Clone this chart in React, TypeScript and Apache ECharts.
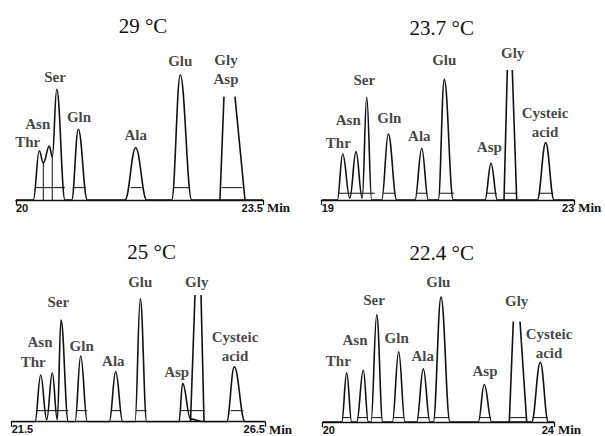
import React, { useEffect, useRef } from "react";
import * as echarts from "echarts";

// ---------- data (time in min, signal in % of full scale) ----------
const panelTitles = ["29 °C", "23.7 °C", "25 °C", "22.4 °C"];
const axisRanges: [number, number][] = [
  [20, 23.5],
  [19, 23],
  [21.5, 26.5],
  [20, 24],
];

// Detector traces (retention time, signal)
const trace29: [number, number][] = [
  [20, 0], [20.245, 0], [20.33, 37.9], [20.387, 28.5], [20.472, 41.5], [20.514, 33.1], [20.577, 85.2], [20.694, 0],
  [20.789, 0], [20.883, 54.4], [21.01, 0],
  [21.545, 0], [21.696, 40.2], [21.852, 0],
  [22.206, 0], [22.328, 96.2], [22.49, 0],
  [22.89, 0], [23.245, 0], [23.5, 0],
];
const trace237: [number, number][] = [
  [19, 0], [19.247, 0], [19.333, 35.4], [19.445, 1.5], [19.543, 37.2], [19.641, 1.5], [19.713, 79.0], [19.792, 0],
  [19.95, 0], [20.055, 50.8], [20.188, 0],
  [20.477, 0], [20.584, 39.8], [20.688, 0],
  [20.846, 0], [20.941, 92.8], [21.084, 0],
  [21.586, 0], [21.681, 28.2], [21.781, 0],
  [21.887, 0], [22.088, 0],
  [22.414, 0], [22.547, 44.1], [22.679, 0], [23, 0],
];
const trace25: [number, number][] = [
  [21.5, 0], [21.96, 0], [22.072, 35.9], [22.191, 1.5], [22.301, 37.7], [22.4, 1.5], [22.473, 78.2], [22.617, 0],
  [22.75, 0], [22.862, 50.5], [22.992, 0],
  [23.427, 0], [23.553, 38.5], [23.691, 0],
  [23.934, 0], [24.038, 94.6], [24.165, 0],
  [24.802, 0], [24.875, 29.5], [25.03, 2], [25.296, 0],
  [25.744, 0], [25.894, 42.3], [26.105, 0], [26.5, 0],
];
const trace224: [number, number][] = [
  [20, 0], [20.329, 0], [20.415, 38], [20.501, 0],
  [20.588, 0], [20.702, 40], [20.789, 0],
  [20.835, 0], [20.934, 82.8], [21.038, 0],
  [21.204, 0], [21.314, 54.2], [21.423, 0],
  [21.625, 0], [21.74, 41.1], [21.855, 0],
  [21.912, 0], [22.046, 96.5], [22.201, 0],
  [22.691, 0], [22.794, 29], [22.922, 0],
  [23.227, 0], [23.528, 0],
  [23.614, 0], [23.763, 46.2], [23.901, 0], [24, 0],
];

// Off-scale Gly peaks: [left base, left top, right top, right base] times, and the pen limit
const glyTimes: [number, number, number, number][] = [
  [22.89, 22.947, 23.103, 23.245],
  [21.887, 21.939, 22.018, 22.088],
  [25.03, 25.118, 25.237, 25.296],
  [23.227, 23.296, 23.412, 23.528],
];
const glyLimit = [79.5, 100, 97.5, 77.7];

// Integration marks (start, end time) and their level
const bars29: [number, number][] = [[20.269, 20.694], [20.803, 20.992], [21.625, 21.781], [22.239, 22.466], [22.914, 23.207]];
const bars237: [number, number][] = [[19.263, 19.844], [19.975, 20.161], [20.504, 20.672], [20.873, 21.095], [21.602, 21.771], [21.903, 22.088], [22.446, 22.667]];
const bars25: [number, number][] = [[21.98, 22.617], [22.769, 22.992], [23.46, 23.652], [23.954, 24.165], [24.822, 25.316], [25.823, 26.072]];
const bars224: [number, number][] = [[20.345, 20.49], [20.6, 20.78], [20.845, 21.03], [21.215, 21.41], [21.64, 21.845], [21.925, 22.19], [22.705, 22.91], [23.24, 23.515], [23.63, 23.89]];
const barLevels = [9.5, 5.2, 8.5, 3.4];
// Valley drop lines (time, valley signal)
const drops29: [number, number][] = [[20.387, 28.5], [20.514, 33.1]];

// Peak names and apexes
const names29 = ["Thr", "Asn", "Ser", "Gln", "Ala", "Glu", "Gly\nAsp"];
const times29 = [20.33, 20.472, 20.577, 20.883, 21.696, 22.328, 23.025];
const heights29 = [37.9, 41.5, 85.2, 54.4, 40.2, 96.2, 79.5];

const names9 = ["Thr", "Asn", "Ser", "Gln", "Ala", "Glu", "Asp", "Gly", "Cysteic\nacid"];
const times237 = [19.333, 19.543, 19.713, 20.055, 20.584, 20.941, 21.681, 21.978, 22.547];
const heights237 = [35.4, 37.2, 79.0, 50.8, 39.8, 92.8, 28.2, 100, 44.1];
const times25 = [22.072, 22.301, 22.473, 22.862, 23.553, 24.038, 24.875, 25.178, 25.894];
const heights25 = [35.9, 37.7, 78.2, 50.5, 38.5, 94.6, 29.5, 97.5, 42.3];
const times224 = [20.415, 20.702, 20.934, 21.314, 21.74, 22.046, 22.794, 23.354, 23.763];
const heights224 = [38, 40, 82.8, 54.2, 41.1, 96.5, 29, 77.7, 46.2];

// ---------- layout / styling ----------
const gridBoxes = [
  { left: 16, width: 247, baseline: 200 },
  { left: 321.7, width: 252.6, baseline: 200 },
  { left: 11.7, width: 253.3, baseline: 421.7 },
  { left: 322.7, width: 231.3, baseline: 422.7 },
];
const titlePos = [
  [143, 26],
  [441.7, 28],
  [151.7, 251.7],
  [441.7, 253.3],
];
const labelOffsets: number[][][] = [
  [[-11.6, -9], [-11.6, -22], [-1.7, -12], [0.7, -12], [0, -12.7], [0, -14], [-3.5, -26.7]],
  [[-4.4, -10.7], [-7.7, -31.7], [-2.4, -17.3], [1, -15.7], [-2.4, -12.3], [0, -19.3], [-1.7, -16.6], [2.9, -16.7], [-0.7, -20]],
  [[-7.4, -13.3], [-12.3, -31], [-2.7, -18.3], [1, -10], [-2.4, -11], [0, -17], [-6, -11.6], [-1.3, -13.3], [0.7, -20]],
  [[-8.4, -11.6], [-8.3, -30], [-2.7, -15], [-2, -14], [-0.6, -12.6], [-2.7, -15.6], [0.7, -13.3], [0, -20], [8.7, -18.7]],
];

const INK = "#111";
const Y_MAX = 110;
const PX_PER_UNIT = 1.3;

export default function App() {
  const ref = useRef<HTMLDivElement>(null);
  useEffect(() => {
    if (!ref.current) return;
    const chart = echarts.init(ref.current, undefined, { renderer: "svg" });

    const traces = [trace29, trace237, trace25, trace224];
    const bars = [bars29, bars237, bars25, bars224];
    const labelSets = [
      { names: names29, times: times29, heights: heights29 },
      { names: names9, times: times237, heights: heights237 },
      { names: names9, times: times25, heights: heights25 },
      { names: names9, times: times224, heights: heights224 },
    ];

    const gridH = Y_MAX * PX_PER_UNIT;
    const grid = gridBoxes.map((g) => ({
      left: g.left,
      width: g.width,
      top: g.baseline - gridH,
      height: gridH,
      containLabel: false,
    }));

    const xAxis = axisRanges.map(([mn, mx], i) => ({
      type: "value" as const,
      gridIndex: i,
      min: mn,
      max: mx,
      name: "Min",
      nameLocation: "end" as const,
      nameGap: 3,
      nameTextStyle: {
        color: INK,
        fontFamily: "Liberation Serif",
        fontWeight: "bold",
        fontSize: 13,
        verticalAlign: "top",
        padding: [1, 0, 0, 0],
      },
      axisLine: { show: true, lineStyle: { color: INK, width: 1.3 } },
      axisTick: { show: true, customValues: [mn, mx], length: 5, lineStyle: { color: INK, width: 1.3 } },
      axisLabel: {
        customValues: [mn, mx],
        showMinLabel: true,
        showMaxLabel: true,
        alignMinLabel: "left",
        alignMaxLabel: "right",
        margin: 2,
        color: INK,
        fontFamily: "Liberation Sans",
        fontWeight: "bold",
        fontSize: 11,
      },
      splitLine: { show: false },
    }));

    const yAxis = gridBoxes.map((_, i) => ({
      type: "value" as const,
      gridIndex: i,
      min: 0,
      max: Y_MAX,
      show: false,
    }));

    const series: any[] = [];
    traces.forEach((tr, i) => {
      series.push({
        type: "line",
        xAxisIndex: i,
        yAxisIndex: i,
        data: tr,
        smooth: 0.4,
        smoothMonotone: "x",
        symbol: "none",
        lineStyle: { color: INK, width: 1.6 },
        silent: true,
      });
      const g = glyTimes[i];
      series.push({
        type: "line",
        xAxisIndex: i,
        yAxisIndex: i,
        data: [[g[0], 0], [g[1], glyLimit[i]], [g[1], null], [g[2], glyLimit[i]], [g[3], 0]],
        connectNulls: false,
        symbol: "none",
        lineStyle: { color: INK, width: 1.6 },
        silent: true,
      });
      const barData: any[] = [];
      bars[i].forEach(([a, b]) => {
        barData.push([a, barLevels[i]], [b, barLevels[i]], [b, null]);
      });
      if (i === 0) {
        drops29.forEach(([t, v]) => {
          barData.push([t, v], [t, 0], [t, null]);
        });
      }
      series.push({
        type: "line",
        xAxisIndex: i,
        yAxisIndex: i,
        data: barData,
        connectNulls: false,
        symbol: "none",
        lineStyle: { color: INK, width: 1 },
        silent: true,
      });
      const ls = labelSets[i];
      series.push({
        type: "scatter",
        xAxisIndex: i,
        yAxisIndex: i,
        symbolSize: 0,
        silent: true,
        data: ls.names.map((n, k) => ({
          name: n,
          value: [ls.times[k], ls.heights[k]],
          label: { offset: labelOffsets[i][k] },
        })),
        label: {
          show: true,
          position: "inside",
          formatter: (p: any) => p.name,
          color: INK,
          fontFamily: "Liberation Serif",
          fontWeight: "bold",
          fontSize: 15,
          lineHeight: 19,
          align: "center",
          verticalAlign: "middle",
        },
      });
    });

    const graphic = panelTitles.map((t, i) => ({
      type: "text",
      x: titlePos[i][0],
      y: titlePos[i][1],
      style: {
        text: t,
        fill: INK,
        font: "21px 'Liberation Serif'",
        textAlign: "center",
        textVerticalAlign: "middle",
      },
      silent: true,
    }));

    chart.setOption({
      animation: false,
      backgroundColor: "#fff",
      grid,
      xAxis,
      yAxis,
      series,
      graphic,
    });
    return () => chart.dispose();
  }, []);

  return (
    <div
      ref={ref}
      style={{ position: "absolute", left: 0, top: 0, width: 605, height: 436, background: "#fff" }}
    />
  );
}
